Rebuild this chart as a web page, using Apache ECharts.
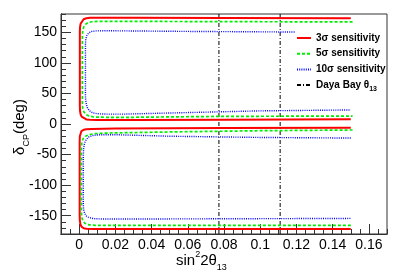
<!DOCTYPE html>
<html><head><meta charset="utf-8">
<script src="https://cdn.jsdelivr.net/npm/echarts@6/dist/echarts.min.js"></script>
<style>html,body{margin:0;padding:0;background:#fff}#c{width:407px;height:276px}</style>
</head><body><div id="c"></div>
<script>
// ---- data ----
const xTickLabels = [0, 0.02, 0.04, 0.06, 0.08, 0.1, 0.12, 0.14, 0.16];
const yTickLabels = [-150, -100, -50, 0, 50, 100, 150];
const dayaBayBounds = [0.0772, 0.111];

const sigma3Upper = [[0.15,173],[0.08,173.5],[0.03,174],[0.01,174],[0.006,173.8],[0.004,173],[0.0025,171.5],[0.0014,168.5],[0.0008,164],[0.0005,158],[0.0004,150],[0.0004,30],[0.0005,22],[0.0008,16],[0.0014,12],[0.0025,9],[0.004,7.5],[0.006,7],[0.01,6.6],[0.03,6.5],[0.08,7],[0.15,7.6]];
const sigma3Lower = [[0.15,-6],[0.08,-6.5],[0.02,-7.5],[0.007,-8],[0.004,-8.6],[0.0025,-9.5],[0.0013,-11.5],[0.0007,-14.5],[0.0004,-20],[0.0003,-30],[0.0003,-150],[0.0004,-158],[0.0007,-164],[0.0013,-168],[0.0025,-170.5],[0.004,-171.5],[0.008,-172],[0.03,-172],[0.15,-171.8]];
const sigma5Upper = [[0.151,167],[0.08,167.5],[0.02,168],[0.01,167.8],[0.007,167.3],[0.005,166],[0.0035,163],[0.0026,159],[0.002,153],[0.0018,145],[0.0018,32],[0.002,25],[0.0027,19.5],[0.0038,15.5],[0.0055,13],[0.008,11.5],[0.014,11],[0.03,11],[0.08,12.5],[0.151,13]];
const sigma5Lower = [[0.151,-9.8],[0.1,-11],[0.05,-13],[0.02,-14.5],[0.014,-15],[0.008,-16],[0.0055,-17.5],[0.0035,-20],[0.0022,-24],[0.0015,-30],[0.0013,-40],[0.0013,-145],[0.0015,-153],[0.0022,-159],[0.0032,-162.5],[0.0048,-164.5],[0.007,-165.5],[0.012,-166],[0.151,-166]];
const sigma10Upper = [[0.119,150.5],[0.06,151.5],[0.02,152.5],[0.014,152.6],[0.009,152.3],[0.0068,151.3],[0.0053,149],[0.0043,145],[0.0037,139],[0.0035,130],[0.0035,45],[0.0038,35],[0.0045,27],[0.0057,21.5],[0.0075,18.3],[0.01,16.8],[0.015,16.2],[0.025,16.2],[0.05,18],[0.1,21.5],[0.15,23]];
const sigma10Lower = [[0.15,-23],[0.1,-22],[0.05,-20],[0.02,-17.5],[0.012,-17.5],[0.008,-18.5],[0.0055,-21],[0.004,-25],[0.003,-31],[0.0025,-40],[0.0023,-55],[0.0023,-130],[0.0025,-140],[0.003,-146],[0.004,-150.5],[0.0055,-153.3],[0.008,-154.8],[0.013,-155.5],[0.03,-155.5],[0.15,-154.5]];
const seriesNames = ['3σ sensitivity', '5σ sensitivity', '10σ sensitivity', 'Daya Bay θ13'];

// ---- chart ----
const FONT = 'Liberation Sans, Arial, Helvetica, sans-serif';
const chart = echarts.init(document.getElementById('c'), null, {renderer: 'canvas'});

function contour(name, data, color, type, width) {
  return {name, type: 'line', data, symbol: 'none', xAxisIndex: 0, yAxisIndex: 0,
    lineStyle: {color, type, width}, itemStyle: {color}, animation: false, z: 3};
}
function vline(x) {
  return {name: seriesNames[3], type: 'line', symbol: 'none', xAxisIndex: 0, yAxisIndex: 0,
    data: [[x, -180], [x, 180]], lineStyle: {color: '#000', type: [4, 2, 1, 2], width: 1},
    itemStyle: {color: '#000'}, animation: false, z: 2};
}

const axisCommon = {
  type: 'value', splitLine: {show: false},
  axisLine: {show: true, onZero: false, lineStyle: {color: '#333', width: 1}}
};

chart.setOption({
  animation: false,
  grid: {left: 61, top: 14, right: 20, bottom: 42, show: true, borderColor: '#333', borderWidth: 1},
  xAxis: [
    Object.assign({}, axisCommon, {
      min: -0.01, max: 0.17, position: 'bottom',
      axisTick: {show: true, inside: true, length: 10, customValues: xTickLabels, lineStyle: {color: '#333'}},
      axisLabel: {customValues: xTickLabels, formatter: v => String(v), fontFamily: FONT, fontSize: 14, color: '#000', margin: 4}
    }),
    Object.assign({}, axisCommon, {
      min: -0.01, max: 0.17, interval: 0.005, position: 'bottom',
      axisTick: {show: true, inside: true, length: 5, lineStyle: {color: '#333'}},
      axisLabel: {show: false}
    })
  ],
  yAxis: [
    Object.assign({}, axisCommon, {
      min: -180, max: 180, position: 'left',
      axisTick: {show: true, inside: true, length: 10, customValues: yTickLabels, lineStyle: {color: '#333'}},
      axisLabel: {customValues: yTickLabels, formatter: v => String(v), fontFamily: FONT, fontSize: 14, color: '#000', margin: 4}
    }),
    Object.assign({}, axisCommon, {
      min: -180, max: 180, interval: 10, position: 'left',
      axisTick: {show: true, inside: true, length: 5, lineStyle: {color: '#333'}},
      axisLabel: {show: false}
    })
  ],
  legend: {
    orient: 'vertical', left: 296, top: 33, padding: 0, itemWidth: 14, itemHeight: 10, itemGap: 5.7,
    data: seriesNames,
    itemStyle: {opacity: 0},
    formatter: n => n === seriesNames[3] ? '{b|Daya Bay θ}{s|13}' : '{b|' + n + '}',
    textStyle: {color: '#000', fontFamily: FONT, fontSize: 10, fontWeight: 'bold',
      rich: {
        b: {fontFamily: FONT, fontSize: 10, fontWeight: 'bold', lineHeight: 14, color: '#000'},
        s: {fontFamily: FONT, fontSize: 7, fontWeight: 'bold', lineHeight: 7, verticalAlign: 'bottom', color: '#000'}
      }}
  },
  series: [
    contour(seriesNames[0], sigma3Upper, '#ff0000', 'solid', 2),
    contour(seriesNames[0], sigma3Lower, '#ff0000', 'solid', 2),
    contour(seriesNames[1], sigma5Upper, '#00ee00', [3, 2], 1.7),
    contour(seriesNames[1], sigma5Lower, '#00ee00', [3, 2], 1.7),
    contour(seriesNames[2], sigma10Upper, '#0000ff', [1, 1.2], 1.4),
    contour(seriesNames[2], sigma10Lower, '#0000ff', [1, 1.2], 1.4),
    vline(dayaBayBounds[0]),
    vline(dayaBayBounds[1])
  ],
  graphic: [
    {type: 'text', left: 176, top: 250, silent: true,
     style: {text: '{t|sin}{p|2}{t|2θ}{s|13}', fill: '#000',
       rich: {
         t: {fontFamily: FONT, fontSize: 15, lineHeight: 22, color: '#000'},
         p: {fontFamily: FONT, fontSize: 9, lineHeight: 14, verticalAlign: 'top', color: '#000'},
         s: {fontFamily: FONT, fontSize: 9, lineHeight: 9, verticalAlign: 'bottom', color: '#000'}
       }}},
    {type: 'text', x: 20, y: 127, rotation: Math.PI / 2, silent: true,
     style: {text: '{t|δ}{s|CP}{t|(deg)}', align: 'center', verticalAlign: 'middle', fill: '#000',
       rich: {
         t: {fontFamily: FONT, fontSize: 15, lineHeight: 22, color: '#000'},
         s: {fontFamily: FONT, fontSize: 9, lineHeight: 9, verticalAlign: 'bottom', color: '#000'}
       }}}
  ]
});
</script>
</body></html>
